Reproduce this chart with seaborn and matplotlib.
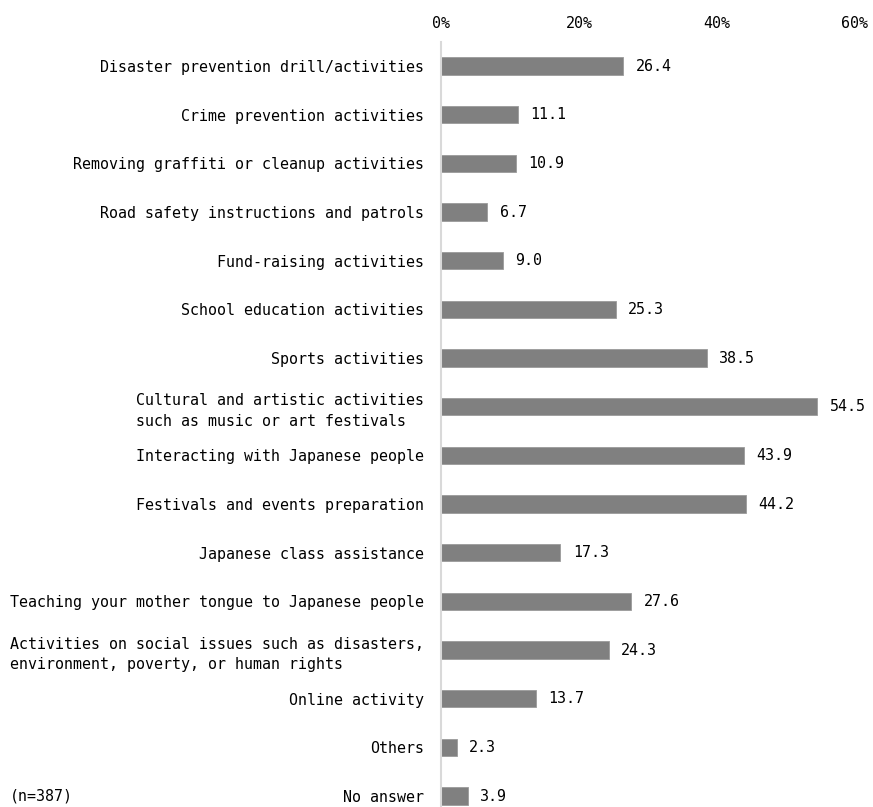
import matplotlib
matplotlib.use("Agg")
import matplotlib.pyplot as plt
import seaborn as sns
import pandas as pd

categories = [
    "Disaster prevention drill/activities",
    "Crime prevention activities",
    "Removing graffiti or cleanup activities",
    "Road safety instructions and patrols",
    "Fund-raising activities",
    "School education activities",
    "Sports activities",
    "Cultural and artistic activities\nsuch as music or art festivals",
    "Interacting with Japanese people",
    "Festivals and events preparation",
    "Japanese class assistance",
    "Teaching your mother tongue to Japanese people",
    "Activities on social issues such as disasters,\nenvironment, poverty, or human rights",
    "Online activity",
    "Others",
    "No answer",
]
values = [26.4, 11.1, 10.9, 6.7, 9.0, 25.3, 38.5, 54.5, 43.9, 44.2, 17.3, 27.6, 24.3, 13.7, 2.3, 3.9]
xticks = [0, 20, 40, 60]
xticklabels = ["0%", "20%", "40%", "60%"]
note = "(n=387)"

sns.set_style("white")
plt.rcParams['font.family'] = ['DejaVu Sans Mono', 'DejaVu Sans']
plt.rcParams['text.color'] = 'black'
plt.rcParams['xtick.color'] = 'black'
plt.rcParams['ytick.color'] = 'black'
plt.rcParams['xtick.labelcolor'] = 'black'
plt.rcParams['ytick.labelcolor'] = 'black'
FS = 10.8

df = pd.DataFrame({"cat": categories, "val": values})

fig = plt.figure(figsize=(8.73, 8.07), dpi=100)
ax_top = 41.7 / 807
ax = fig.add_axes([441 / 873, 0.0, (855 - 441) / 873, 1 - ax_top])

sns.barplot(data=df, x="val", y="cat", orient="h", color="#808080",
            width=0.36, saturation=1, ax=ax)
for p in ax.patches:
    p.set_edgecolor("#9a9a9a")
    p.set_linewidth(0.6)

ax.set_xlim(0, 60)
ax.set_ylim(15 + (807 - 796) / 48.7, -0.5)
ax.xaxis.tick_top()
ax.set_xticks(xticks)
ax.set_xticklabels(xticklabels, fontsize=FS)
ax.tick_params(axis="x", length=0, pad=8)
ax.tick_params(axis="y", length=0, pad=12)
ax.set_yticks(range(len(categories)))
ax.set_yticklabels(categories, fontsize=FS)
for t in ax.get_yticklabels():
    t.set_multialignment("left")
    t.set_linespacing(1.45)
ax.set_xlabel("")
ax.set_ylabel("")
for s in ["top", "right", "bottom"]:
    ax.spines[s].set_visible(False)
ax.spines["left"].set_color("#d9d9d9")
ax.spines["left"].set_linewidth(1.5)

for i, v in enumerate(values):
    ax.text(v + 1.8, i, f"{v:.1f}", va="center", ha="left", fontsize=FS, color="black")

fig.text(10 / 873, 1 - 796 / 807, note, fontsize=FS, ha="left", va="center", color="black")

fig.savefig("out.png", dpi=100)
